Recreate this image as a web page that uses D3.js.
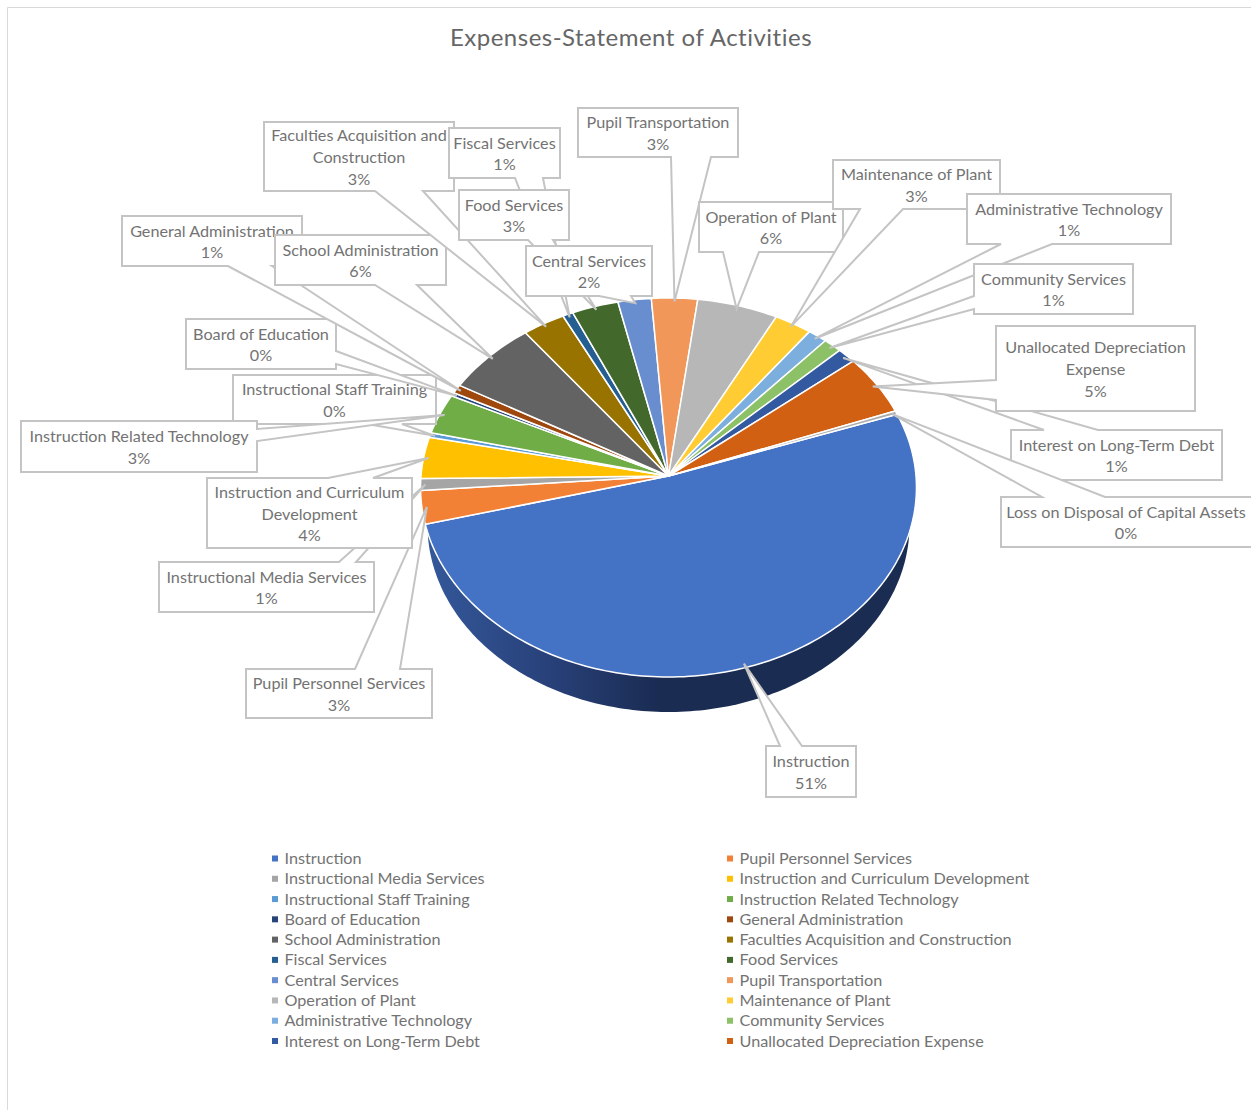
<!DOCTYPE html>
<html>
<head>
<meta charset="utf-8">
<script src="https://cdn.jsdelivr.net/npm/d3@7"></script>
<style>
html, body { margin: 0; padding: 0; background: #fff; }
svg { display: block; }
text { font-family: Lato, "Open Sans", sans-serif; fill: #737373; }
</style>
</head>
<body>
<svg id="chart"></svg>
<script>
// Data (percent of total)
const categories = [
    'Instruction', 'Pupil Personnel Services', 'Instructional Media Services',
    'Instruction and Curriculum Development', 'Instructional Staff Training',
    'Instruction Related Technology', 'Board of Education', 'General Administration',
    'School Administration', 'Faculties Acquisition and Construction', 'Fiscal Services',
    'Food Services', 'Central Services', 'Pupil Transportation', 'Operation of Plant',
    'Maintenance of Plant', 'Administrative Technology', 'Community Services',
    'Interest on Long-Term Debt', 'Unallocated Depreciation Expense',
    'Loss on Disposal of Capital Assets'
];
const values = [51.3, 2.83, 1.0, 3.55, 0.39, 3.45, 0.3, 0.75, 6.4, 2.94, 0.72, 3.22, 2.3, 3.17, 5.58, 2.6, 1.33, 1.28, 1.3, 5.17, 0.3];
const colors = ['#4472C4', '#F28035', '#A5A5A5', '#FFC000', '#5B9BD5', '#70AD47', '#264478', '#9E480E',
    '#636363', '#997300', '#255E91', '#43682B', '#698ED0', '#F1975A', '#B7B7B7', '#FFCD33',
    '#7CAFDD', '#8CC168', '#335AA1', '#D26012', '#ABABAB'];
const title = 'Expenses-Statement of Activities';

// Where a label breaks onto a second line
const wrapped = {
    'Instruction and Curriculum Development': ['Instruction and Curriculum', 'Development'],
    'Faculties Acquisition and Construction': ['Faculties Acquisition and', 'Construction'],
    'Unallocated Depreciation Expense': ['Unallocated Depreciation', 'Expense']
};

// Callout layout: box [x0, y0, x1, y1], side the pointer leaves from, and where on that side
const calloutLayout = [
    {box: [766, 746, 856, 797], side: 't', base: [780, 802]},
    {box: [246, 669, 432, 718], side: 't', base: [355, 400]},
    {box: [159, 562, 374, 612], side: 't', base: [339, 356]},
    {box: [207, 478, 412, 548], side: 't', base: [328, 373]},
    {box: [233, 375, 436, 424], side: 'b', base: [367, 402]},
    {box: [21, 421, 257, 472], side: 'r', base: [429, 441]},
    {box: [186, 319, 336, 369], side: 'r', base: [351, 364]},
    {box: [122, 216, 302, 266], side: 'b', base: [228, 272]},
    {box: [275, 235, 446, 285], side: 'b', base: [375, 417]},
    {box: [264, 122, 454, 191], side: 'b', base: [375, 423]},
    {box: [449, 128, 560, 178], side: 'b', base: [515, 543]},
    {box: [459, 190, 569, 240], side: 'b', base: [528, 553]},
    {box: [526, 246, 652, 296], side: 'b', base: [599, 631]},
    {box: [578, 108, 738, 157], side: 'b', base: [671, 711]},
    {box: [699, 202, 843, 252], side: 'b', base: [723, 759]},
    {box: [833, 160, 1000, 209], side: 'b', base: [860, 903]},
    {box: [967, 194, 1171, 244], side: 'b', base: [1001, 1052]},
    {box: [974, 264, 1133, 314], side: 'l', base: [296, 309]},
    {box: [1011, 430, 1222, 480], side: 't', base: [1044, 1098]},
    {box: [996, 326, 1195, 411], side: 'l', base: [380, 400]},
    {box: [1001, 497, 1262, 547], side: 't', base: [1042, 1105]}
];

// Configuration
const width = 1251;
const height = 1110;
const apex = {x: 668.5, y: 476};
const startDeg = 70.5;
// Tilted disc: perspective squeezes the back half and stretches the front
const tilt = {a: 188.8, b: 0.0607, c: 247.5};

function project(angle, r) {
    const u = r * Math.sin(angle);
    const v = -r * Math.cos(angle);
    const w = 1 - tilt.b * v;
    return [apex.x + tilt.c * u / w, apex.y + tilt.a * v / w];
}

const svg = d3.select("#chart")
    .attr("width", width)
    .attr("height", height);

const defs = svg.append("defs");
const sideGrad = defs.append("linearGradient")
    .attr("id", "side")
    .attr("gradientUnits", "userSpaceOnUse")
    .attr("x1", 427).attr("x2", 909).attr("y1", 0).attr("y2", 0);
sideGrad.append("stop").attr("offset", 0).attr("stop-color", "#34589A");
sideGrad.append("stop").attr("offset", 0.25).attr("stop-color", "#28417A");
sideGrad.append("stop").attr("offset", 0.48).attr("stop-color", "#1A2C52");
sideGrad.append("stop").attr("offset", 1).attr("stop-color", "#1A2C52");

// Chart frame, only top and left show
svg.append("path")
    .attr("d", `M7.5,${height}V7.5H${width}`)
    .attr("fill", "none")
    .attr("stroke", "#D9D9D9");

svg.append("text")
    .attr("x", 631)
    .attr("y", 46)
    .attr("text-anchor", "middle")
    .style("font-size", "24px")
    .style("letter-spacing", "0.5px")
    .style("fill", "#666666")
    .text(title);

const pie = d3.pie().sort(null)
    .startAngle(startDeg * Math.PI / 180)
    .endAngle(startDeg * Math.PI / 180 + 2 * Math.PI);
const arcs = pie(values);
const total = d3.sum(values);
const line = d3.line();

// Side wall: lower disc peeking out below the top one
const rim = d3.range(0, 2 * Math.PI, 0.02).map(t => [
    apex.x + 241 * Math.cos(t),
    525 + 187 * Math.sin(t)
]);
svg.append("path")
    .attr("d", line(rim) + "Z")
    .attr("fill", "url(#side)");

function slicePath(d) {
    const n = Math.max(2, Math.ceil((d.endAngle - d.startAngle) / 0.02));
    const pts = d3.range(n + 1).map(i =>
        project(d.startAngle + (d.endAngle - d.startAngle) * i / n, 1));
    return line([[apex.x, apex.y], ...pts]) + "Z";
}

svg.append("g").selectAll("path")
    .data(arcs)
    .join("path")
    .attr("d", slicePath)
    .attr("fill", (d, i) => colors[i])
    .attr("stroke", "#fff")
    .attr("stroke-width", 1.5)
    .attr("stroke-linejoin", "round");

// Box outline with the pointer wedge cut into one side
function calloutPoints(layout, tip) {
    const [x0, y0, x1, y1] = layout.box;
    const [a, b] = layout.base;
    if (layout.side === 't') return [[x0, y0], [a, y0], tip, [b, y0], [x1, y0], [x1, y1], [x0, y1]];
    if (layout.side === 'b') return [[x0, y0], [x1, y0], [x1, y1], [b, y1], tip, [a, y1], [x0, y1]];
    if (layout.side === 'l') return [[x0, y0], [x1, y0], [x1, y1], [x0, y1], [x0, b], tip, [x0, a]];
    return [[x0, y0], [x1, y0], [x1, a], tip, [x1, b], [x1, y1], [x0, y1]];
}

const callouts = svg.append("g").selectAll("g")
    .data(arcs)
    .join("g");

callouts.append("path")
    .attr("d", (d, i) => {
        const tip = project((d.startAngle + d.endAngle) / 2, 0.98);
        return line(calloutPoints(calloutLayout[i], tip)) + "Z";
    })
    .attr("fill", "#fff")
    .attr("stroke", "#C4C4C4")
    .attr("stroke-width", 2)
    .attr("stroke-linejoin", "miter");

callouts.each(function(d, i) {
    const layout = calloutLayout[i];
    const lines = (wrapped[categories[i]] || [categories[i]])
        .concat(`${Math.round(d.value / total * 100)}%`);
    const [x0, y0, x1, y1] = layout.box;
    // Loss box runs off the page, its text stays centred on the real box
    const cx = (x0 + Math.min(x1, 1251)) / 2;
    const top = (y0 + y1) / 2 - (lines.length - 1) * 21.7 / 2;
    d3.select(this).selectAll("text")
        .data(lines)
        .join("text")
        .attr("x", cx)
        .attr("y", (t, j) => top + j * 21.7 + 6.5)
        .attr("text-anchor", "middle")
        .style("font-size", "16.2px")
        .text(t => t);
});

// Legend, two columns filled row by row. The last category has no entry.
const legendY = d3.scaleLinear().domain([0, 9]).range([858.5, 1041]);
const legendX = [272, 727];
const legend = svg.append("g").selectAll("g")
    .data(categories.slice(0, 20))
    .join("g")
    .attr("transform", (d, i) => `translate(${legendX[i % 2]},${legendY(Math.floor(i / 2))})`);

legend.append("rect")
    .attr("y", -3)
    .attr("width", 6)
    .attr("height", 6)
    .attr("fill", (d, i) => colors[i]);

legend.append("text")
    .attr("x", 12.5)
    .attr("y", 5.5)
    .style("font-size", "16.2px")
    .text(d => d);
</script>
</body>
</html>
